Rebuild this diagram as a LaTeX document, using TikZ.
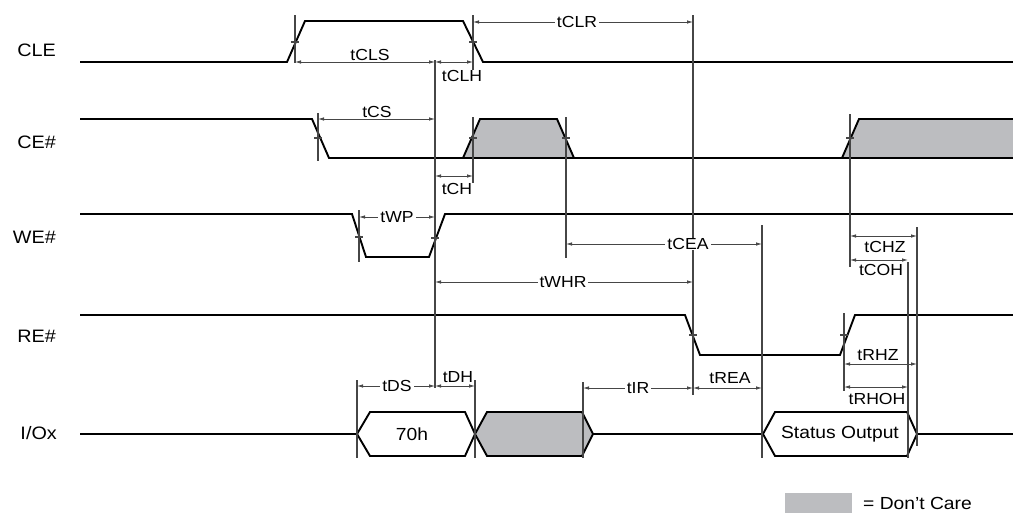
\documentclass[tikz,border=0pt]{standalone}
\usepackage{fontspec}
\setmainfont{Liberation Sans}[FakeStretch=1.1]
\usetikzlibrary{arrows.meta}
\definecolor{dcgray}{RGB}{188,189,192}
\definecolor{mkgray}{RGB}{70,70,70}
\tikzset{
  sig/.style={line width=1.9pt, line join=miter, black},
  mk/.style={line width=1.1pt, mkgray},
  dim/.style={line width=0.8pt, mkgray, {Latex[length=6pt,width=3.5pt]}-{Latex[length=6pt,width=3.5pt]}},
  siglab/.style={font=\fontsize{18}{20}\selectfont, anchor=east, inner sep=0pt},
  tlab/.style={font=\fontsize{16}{18}\selectfont, inner sep=0pt},
  ilab/.style={font=\fontsize{16}{18}\selectfont, fill=white, inner xsep=2pt, inner ysep=0pt},
  dlab/.style={font=\fontsize{17.5}{20}\selectfont, inner sep=0pt}
}
\newcommand{\marker}[4]{\draw[mk] (#1,#2) -- (#1,#3); \draw[mk] ({#1-4},#4) -- ({#1+4},#4);}
\newcommand{\vmark}[3]{\draw[mk] (#1,#2) -- (#1,#3);}
\begin{document}
\begin{tikzpicture}[x=1pt,y=-1pt]
\useasboundingbox (0,0) rectangle (1013,514);
% gray don't care regions
\fill[dcgray] (463,158) -- (480,119) -- (557,119) -- (574,158) -- cycle;
\fill[dcgray] (842,158) -- (859,119) -- (1013,119) -- (1013,158) -- cycle;
\fill[dcgray] (475,434) -- (487,412) -- (582,412) -- (593,434) -- (582,456) -- (487,456) -- cycle;
% signal labels
\node[siglab] (lcle) at (56,50) {CLE};
\node[siglab] (lce) at (56,142) {CE\#};
\node[siglab] (lwe) at (56,237) {WE\#};
\node[siglab] (lre) at (56,336) {RE\#};
\node[siglab] (lio) at (57,433) {I/Ox};
% signals
\draw[sig] (80,62) -- (287,62) -- (305,21) -- (463,21) -- (483,62) -- (1013,62);
\draw[sig] (80,119) -- (312,119) -- (329,158) -- (1013,158);
\draw[sig] (463,158) -- (480,119) -- (557,119) -- (574,158);
\draw[sig] (842,158) -- (859,119) -- (1013,119);
\draw[sig] (80,214) -- (352,214) -- (366,257) -- (429,257) -- (445,214) -- (1013,214);
\draw[sig] (80,315) -- (685,315) -- (700,355) -- (840,355) -- (855,315) -- (1013,315);
\draw[sig] (80,434) -- (357,434);
\draw[sig] (357,434) -- (370,412) -- (465,412) -- (475,434) -- (465,456) -- (370,456) -- cycle;
\draw[sig] (475,434) -- (487,412) -- (582,412) -- (593,434) -- (582,456) -- (487,456) -- cycle;
\draw[sig] (593,434) -- (762,434);
\draw[sig] (763,434) -- (775,412) -- (907,412) -- (917,434) -- (907,456) -- (775,456) -- cycle;
\draw[sig] (917,434) -- (1013,434);
\node[dlab] (d70) at (412,434) {70h};
\node[dlab] (dst) at (840,434) {Status Output};
% markers
\marker{295}{15}{63}{42}
\marker{473}{15}{70}{42}
\vmark{435}{60}{388}
\draw[mk] (431,238) -- (439,238);
\marker{318}{113}{161}{138}
\marker{473}{117}{183}{138}
\marker{566}{117}{258}{138}
\marker{850}{114}{267}{138}
\marker{359}{210}{262}{237}
\marker{693}{15}{395}{335}
\vmark{762}{225}{458}
\marker{844}{313}{391}{335}
\vmark{917}{227}{446}
\vmark{908}{262}{458}
\vmark{583}{382}{458}
\vmark{357}{380}{458}
\vmark{475}{380}{458}
% dimension arrows
\draw[dim] (295,62) -- (435,62);
\node[tlab] (tcls) at (370,55) {tCLS};
\draw[dim] (435,62) -- (473,62);
\node[tlab] (tclh) at (462,76) {tCLH};
\draw[dim] (473,22) -- (693,22);
\node[ilab] (tclr) at (577,22) {tCLR};
\draw[dim] (318,119) -- (435,119);
\node[tlab] (tcs) at (377,112) {tCS};
\draw[dim] (435,176) -- (473,176);
\node[tlab] (tch) at (457,189) {tCH};
\draw[dim] (359,217) -- (435,217);
\node[ilab] (twp) at (397,217) {tWP};
\draw[dim] (566,244) -- (762,244);
\node[ilab] (tcea) at (688,244) {tCEA};
\draw[dim] (435,282) -- (693,282);
\node[ilab] (twhr) at (563,282) {tWHR};
\draw[dim] (850,236) -- (917,236);
\node[tlab] (tchz) at (885,247) {tCHZ};
\draw[dim] (850,260) -- (908,260);
\node[tlab] (tcoh) at (881,270) {tCOH};
\draw[dim] (844,364) -- (917,364);
\node[tlab] (trhz) at (878,355) {tRHZ};
\draw[dim] (844,387) -- (908,387);
\node[tlab] (trhoh) at (877,399) {tRHOH};
\draw[dim] (693,388) -- (762,388);
\node[tlab] (trea) at (730,378) {tREA};
\draw[dim] (583,388) -- (693,388);
\node[ilab] (tir) at (638,388) {tIR};
\draw[dim] (357,386) -- (435,386);
\node[ilab] (tds) at (397,386) {tDS};
\draw[dim] (435,386) -- (475,386);
\node[tlab] (tdh) at (458,377) {tDH};
% legend
\fill[dcgray] (785,493) rectangle (852,513);
\node[dlab, anchor=west] (leg) at (863,503) {= Don't Care};
\end{tikzpicture}
\end{document}
